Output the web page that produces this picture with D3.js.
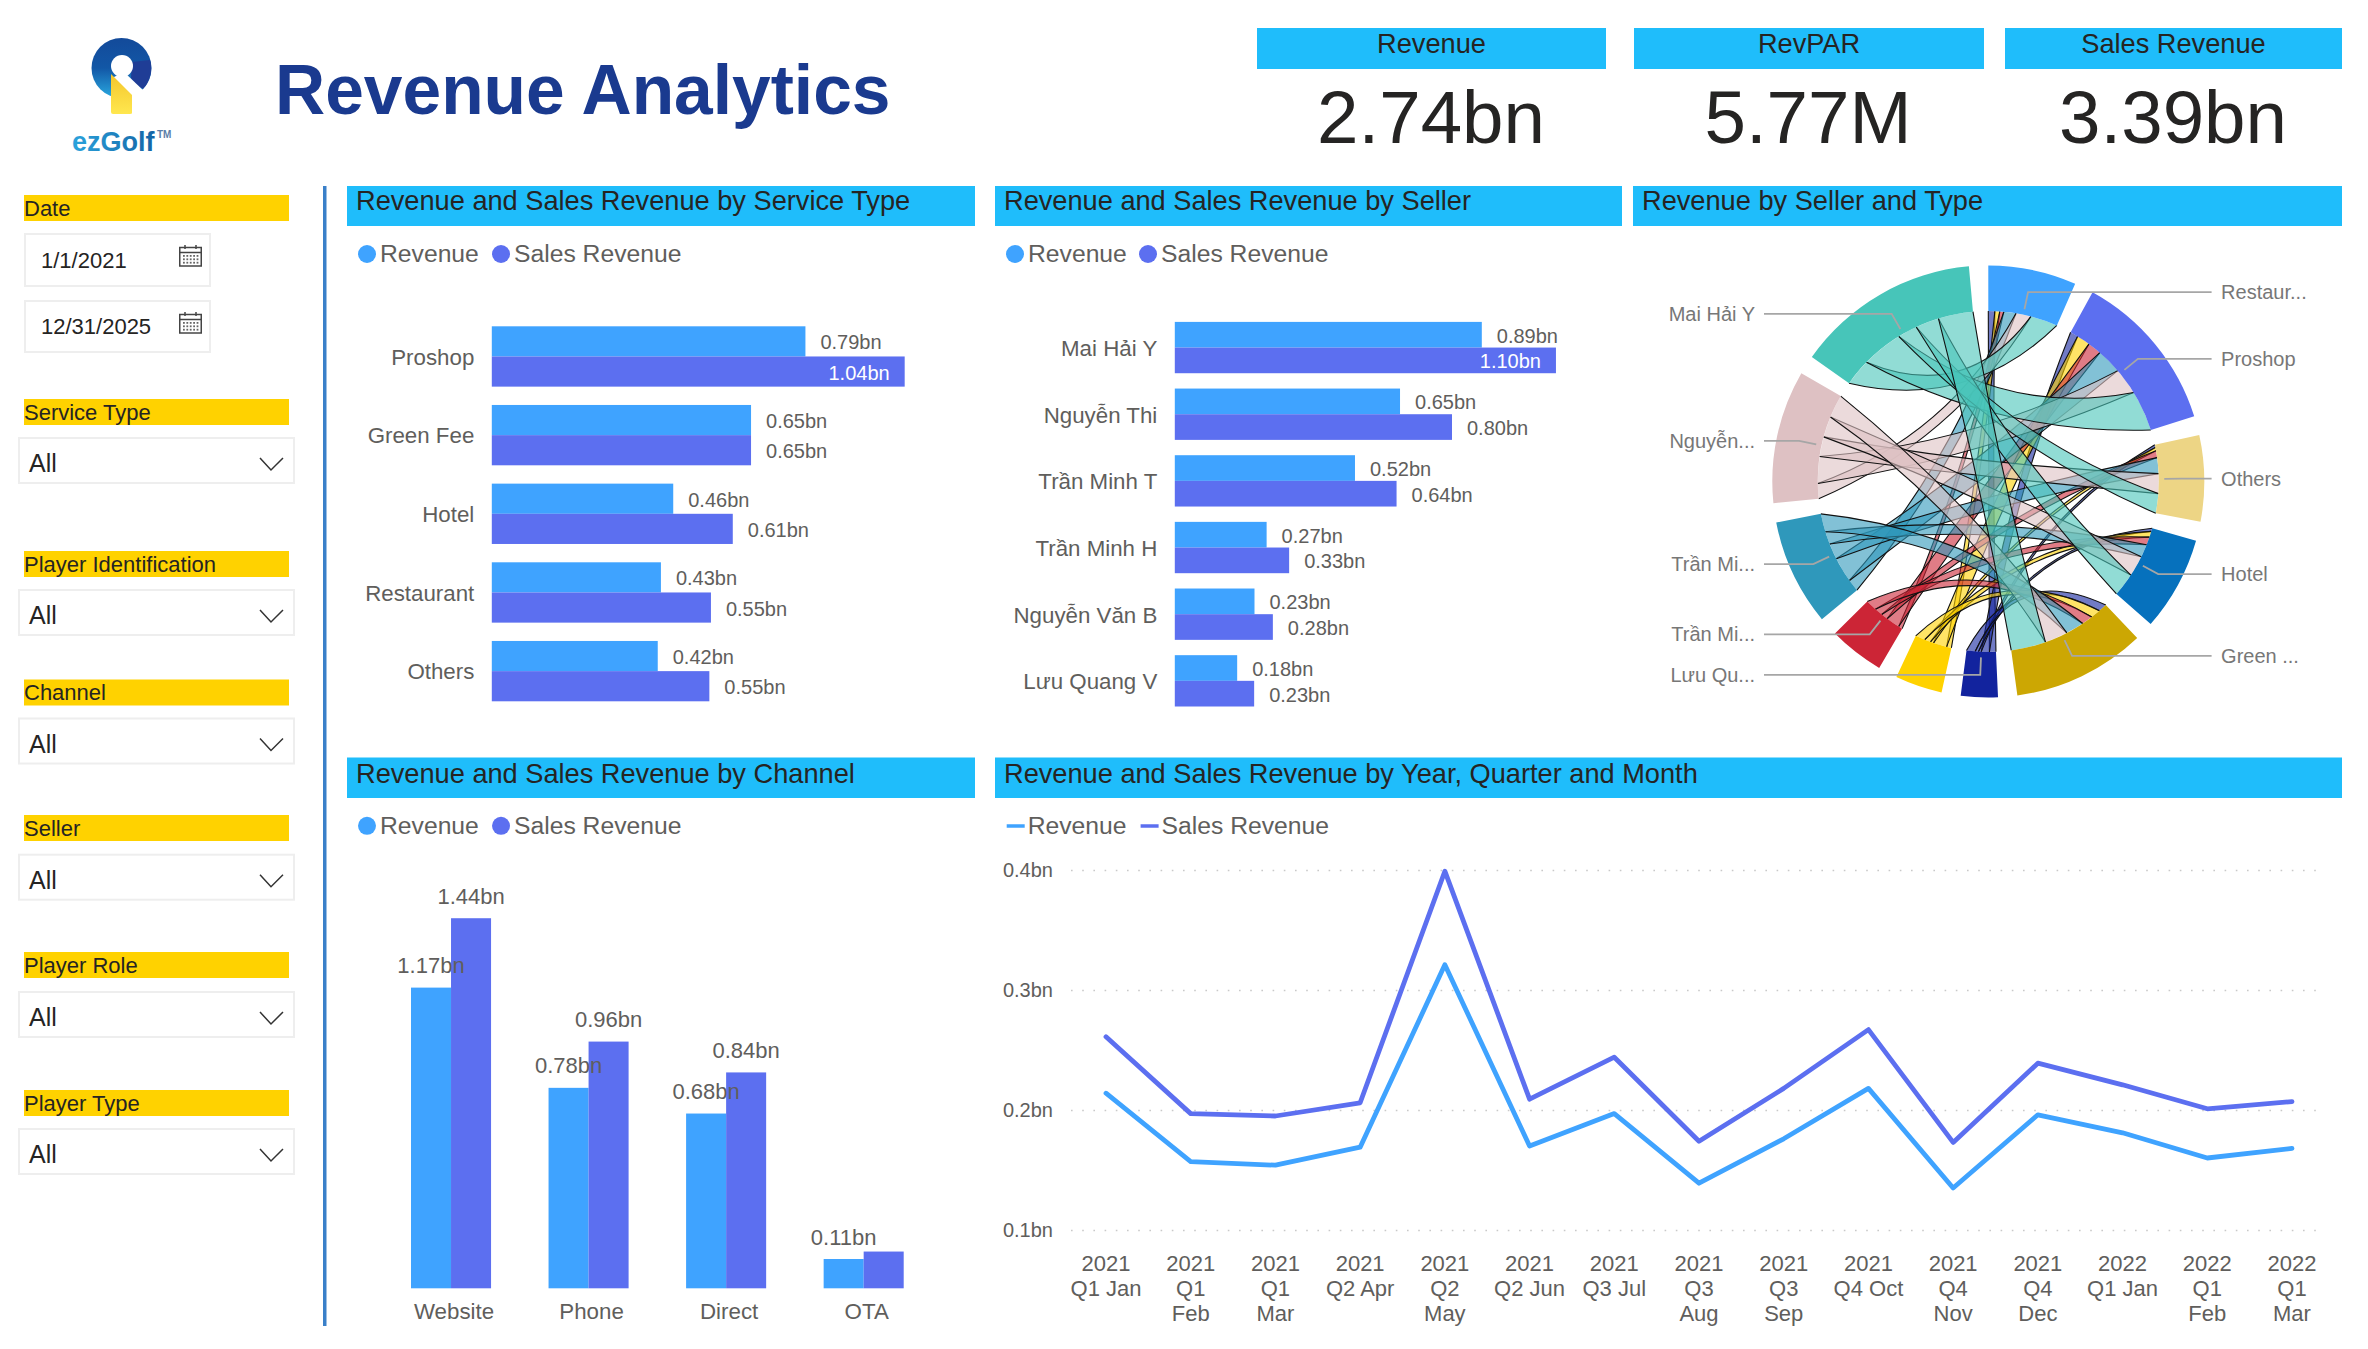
<!DOCTYPE html>
<html><head><meta charset="utf-8"><title>Revenue Analytics</title>
<script src="https://cdn.jsdelivr.net/npm/d3@7"></script>
<style>
html,body{margin:0;padding:0;background:#fff}
svg{display:block}
text{font-family:"Liberation Sans",Arial,sans-serif}
</style></head><body>
<svg id="c" width="2368" height="1349" viewBox="0 0 2368 1349"></svg>
<script>
// ---------- data ----------
const seriesNames = ["Revenue", "Sales Revenue"];
const kpiNames = ["Revenue", "RevPAR", "Sales Revenue"];
const kpiValues = ["2.74bn", "5.77M", "3.39bn"];

const serviceTypes = ["Proshop", "Green Fee", "Hotel", "Restaurant", "Others"];
const serviceRevenue = [0.79, 0.653, 0.457, 0.426, 0.418];
const serviceSales = [1.04, 0.653, 0.607, 0.552, 0.548];

const sellers = ["Mai Hải Y", "Nguyễn Thi", "Trần Minh T", "Trần Minh H", "Nguyễn Văn B", "Lưu Quang V"];
const sellerRevenue = [0.886, 0.65, 0.52, 0.265, 0.23, 0.18];
const sellerSales = [1.10, 0.80, 0.64, 0.33, 0.283, 0.229];

const channels = ["Website", "Phone", "Direct", "OTA"];
const channelRevenue = [1.17, 0.78, 0.68, 0.114];
const channelSales = [1.44, 0.96, 0.84, 0.143];
const channelHiddenSalesLabels = ["OTA"];

const monthLabels = [
  ["2021","Q1 Jan"],["2021","Q1","Feb"],["2021","Q1","Mar"],["2021","Q2 Apr"],["2021","Q2","May"],
  ["2021","Q2 Jun"],["2021","Q3 Jul"],["2021","Q3","Aug"],["2021","Q3","Sep"],["2021","Q4 Oct"],
  ["2021","Q4","Nov"],["2021","Q4","Dec"],["2022","Q1 Jan"],["2022","Q1","Feb"],["2022","Q1","Mar"]];
const monthRevenue = [0.214,0.157,0.154,0.169,0.321,0.170,0.197,0.139,0.176,0.218,0.135,0.196,0.181,0.160,0.168];
const monthSales = [0.261,0.197,0.195,0.206,0.399,0.209,0.244,0.174,0.218,0.267,0.173,0.239,0.221,0.201,0.207];
const lineTicks = [0.1, 0.2, 0.3, 0.4];

// chord groups, clockwise from 12 o'clock
const chordNames = ["Restaurant","Proshop","Others","Hotel","Green Fee","Lưu Quang V","Nguyễn Văn B","Trần Minh H","Trần Minh T","Nguyễn Thi","Mai Hải Y"];
const chordLabels = ["Restaur...","Proshop","Others","Hotel","Green ...","Lưu Qu...","","Trần Mi...","Trần Mi...","Nguyễn...","Mai Hải Y"];
const chordColors = ["#3fa3ff","#5c6ff0","#edd585","#0671bd","#cca703","#12239e","#ffd200","#cc2536","#2f98bb","#dec1c3","#47c5b9"];
const chordTypes = ["Restaurant","Proshop","Others","Hotel","Green Fee"];
const flowLuu   = [0.040,0.050,0.017,0.020,0.053];
const flowVan   = [0.030,0.083,0.020,0.037,0.060];
const flowMinhH = [0.025,0.085,0.042,0.050,0.068];
const flowMinhT = [0.075,0.155,0.098,0.080,0.112];
const flowThi   = [0.093,0.165,0.122,0.128,0.142];
const flowMai   = [0.167,0.252,0.121,0.145,0.215];

const filterNames = ["Service Type","Player Identification","Channel","Seller","Player Role","Player Type"];
const filterValues = ["All","All","All","All","All","All"];
const dateRange = ["1/1/2021","12/31/2025"];

// ---------- style ----------
const C = {rev:"#3fa3ff", sales:"#5c6ff0", band:"#1fbdfb", yellow:"#ffd200", ink:"#252423", grey:"#605e5c", rule:"#3a80c9"};
const svg = d3.select("#c");
const fmt = v => d3.format(".2f")(v) + "bn";

function text(g,x,y,s,size,fill,anchor,weight){
  return g.append("text").attr("x",x).attr("y",y).attr("font-size",size).attr("fill",fill||C.ink)
    .attr("text-anchor",anchor||"start").attr("font-weight",weight||"normal").text(s);
}

// ---------- header ----------
const logo = svg.append("g");
const defs = svg.append("defs");
const lg = defs.append("linearGradient").attr("id","ring").attr("x1",0).attr("y1",0).attr("x2",0).attr("y2",1);
lg.append("stop").attr("offset","0").attr("stop-color","#134a9a");
lg.append("stop").attr("offset","0.5").attr("stop-color","#1257a6");
lg.append("stop").attr("offset","1").attr("stop-color","#2aa9e0");
const ly = defs.append("linearGradient").attr("id","key").attr("x1",0).attr("y1",0).attr("x2",0).attr("y2",1);
ly.append("stop").attr("offset","0").attr("stop-color","#f4c62c");
ly.append("stop").attr("offset","1").attr("stop-color","#ffe74f");
const lt = defs.append("linearGradient").attr("id","wm").attr("x1",0).attr("y1",0).attr("x2",1).attr("y2",0);
lt.append("stop").attr("offset","0").attr("stop-color","#2aa3dc");
lt.append("stop").attr("offset","1").attr("stop-color","#1464a5");
logo.append("circle").attr("cx",121.5).attr("cy",68).attr("r",30).attr("fill","url(#ring)");
logo.append("path").attr("d","M131 78 A 30 30 0 0 0 143 89 A 30 30 0 0 0 150 60 L 132 62 Z").attr("fill","#1f3d96");
logo.append("circle").attr("cx",122).attr("cy",66).attr("r",11).attr("fill","#fff");
logo.append("path").attr("d","M124 72 L 146 93 L 135 104 L 112 78 Z").attr("fill","#fff");
logo.append("path").attr("d","M111 98 L 111 74 L 132 95 L 132 113 Q 132 114 130 114 L 113 114 Q 111 114 111 112 Z").attr("fill","url(#key)");
text(logo,72,151,"ezGolf",27,"url(#wm)","start","bold").attr("font-family","'Open Sans'");
text(logo,157,138,"TM",10,"#5b7ea8","start","bold");

text(svg,275,114,"Revenue Analytics",69.5,"#1a3a8f","start","bold");

const kpiBands = [[1257,1606],[1634,1984],[2005,2342]];
const kpiCentres = [1431,1808,2173];
kpiNames.forEach((n,i)=>{
  svg.append("rect").attr("x",kpiBands[i][0]).attr("y",28).attr("width",kpiBands[i][1]-kpiBands[i][0]).attr("height",41).attr("fill",C.band);
  text(svg,(kpiBands[i][0]+kpiBands[i][1])/2,53,n,27.2,C.ink,"middle");
  text(svg,kpiCentres[i],143,kpiValues[i],74.5,C.ink,"middle");
});

// ---------- filter pane ----------
svg.append("rect").attr("x",323).attr("y",186).attr("width",3.5).attr("height",1140).attr("fill",C.rule);
function band(y,h,label){
  svg.append("rect").attr("x",24).attr("y",y).attr("width",265).attr("height",h).attr("fill",C.yellow);
  text(svg,24,y+h-5.5,label,22,C.ink);
}
band(195,26,"Date");
function calendar(x,y){
  const g = svg.append("g").attr("transform",`translate(${x},${y})`).attr("fill","none").attr("stroke","#444");
  g.append("rect").attr("x",.75).attr("y",2.5).attr("width",21.5).attr("height",18.5).attr("stroke-width",1.5);
  g.append("path").attr("d","M1 7.5H22M6 0V4M17 0V4").attr("stroke-width",1.5);
  d3.range(3).forEach(r=>d3.range(5).forEach(c=>{
    g.append("rect").attr("x",4+c*3.4).attr("y",10+r*3.4).attr("width",1.8).attr("height",1.8).attr("fill","#666").attr("stroke","none");
  }));
}
[[234,52,268],[301,51,334]].forEach((b,i)=>{
  svg.append("rect").attr("x",25).attr("y",b[0]).attr("width",185).attr("height",b[1]).attr("fill","#fff").attr("stroke","#eee").attr("stroke-width",2);
  text(svg,41,b[2],dateRange[i],22,C.ink);
  calendar(179,b[0]+11);
});
const filterBandY = [399,551,679.5,815,952,1090];
const filterBoxY = [438,590,718.5,854.7,992,1129];
filterNames.forEach((n,i)=>{
  band(filterBandY[i],26,n);
  const y = filterBoxY[i];
  svg.append("rect").attr("x",19).attr("y",y).attr("width",275).attr("height",45).attr("fill","#fff").attr("stroke","#eee").attr("stroke-width",2);
  text(svg,29,y+34,filterValues[i],25,C.ink);
  svg.append("path").attr("d",`M260 ${y+20}L271 ${y+32}L283 ${y+20}`).attr("fill","none").attr("stroke","#333").attr("stroke-width",1.5);
});

// ---------- panel helpers ----------
function panelHead(x0,x1,y0,y1,title,dy){
  svg.append("rect").attr("x",x0).attr("y",y0).attr("width",x1-x0).attr("height",y1-y0).attr("fill",C.band);
  text(svg,x0+9,y0+dy,title,27.2,C.ink);
}
function legend(xA,xB,y,kind){
  [[xA,C.rev,seriesNames[0]],[xB,C.sales,seriesNames[1]]].forEach(d=>{
    if(kind==="line"){
      svg.append("line").attr("x1",d[0]).attr("x2",d[0]+18).attr("y1",y).attr("y2",y).attr("stroke",d[1]).attr("stroke-width",3.5);
      text(svg,d[0]+21,y+8,d[2],24.7,C.grey);
    } else {
      svg.append("circle").attr("cx",d[0]+9).attr("cy",y).attr("r",9).attr("fill",d[1]);
      text(svg,d[0]+22,y+8,d[2],24.7,C.grey);
    }
  });
}
function hBars(cats,rev,sal,x0,pxPerBn,yTop,yBot,padInner){
  const maxV = d3.max(rev.concat(sal));
  const x = d3.scaleLinear().domain([0,maxV]).range([x0,x0+maxV*pxPerBn]);
  const y = d3.scaleBand().domain(cats).range([yTop,yBot]).paddingInner(padInner);
  const inner = d3.scaleBand().domain(seriesNames).range([0,y.bandwidth()]);
  const rows = cats.map((c,i)=>({c,vals:[{s:seriesNames[0],v:rev[i]},{s:seriesNames[1],v:sal[i]}]}));
  const g = svg.append("g");
  const rowG = g.selectAll("g.r").data(rows).join("g").attr("transform",d=>`translate(0,${y(d.c)})`);
  rowG.selectAll("rect").data(d=>d.vals).join("rect")
    .attr("x",x0).attr("y",d=>inner(d.s)).attr("width",d=>x(d.v)-x0).attr("height",inner.bandwidth())
    .attr("fill",d=>d.s===seriesNames[0]?C.rev:C.sales);
  rowG.selectAll("text").data(d=>d.vals).join("text")
    .attr("x",d=>d.v===maxV?x(d.v)-15:x(d.v)+15)
    .attr("y",d=>inner(d.s)+inner.bandwidth()/2+8)
    .attr("text-anchor",d=>d.v===maxV?"end":"start")
    .attr("font-size",20).attr("fill",d=>d.v===maxV?"#fff":C.grey)
    .text(d=>fmt(d.v));
  const ax = svg.append("g").attr("transform",`translate(${x0-17.5},1.2)`).call(d3.axisLeft(y).tickSize(0).tickPadding(0));
  ax.select(".domain").remove();
  ax.selectAll("text").attr("font-size",22.3).attr("fill",C.grey).attr("font-family",'"Liberation Sans"');
}

// ---------- service type ----------
panelHead(347,975,186,226,"Revenue and Sales Revenue by Service Type",23.5);
legend(358,492,254,"dot");
hBars(serviceTypes,serviceRevenue,serviceSales,491.8,397,326.3,701.3,0.233);

// ---------- seller ----------
panelHead(995,1622,186,226,"Revenue and Sales Revenue by Seller",23.5);
legend(1006,1139,254,"dot");
hBars(sellers,sellerRevenue,sellerSales,1174.8,346.5,321.9,706.5,0.23);

// ---------- chord ----------
panelHead(1633,2342,186,226,"Revenue by Seller and Type",23.5);
(function(){
  const cx=1988.3, cy=481.5, R=216, r=170.5, pull=0.55;
  const flowRows = {"Lưu Quang V":flowLuu,"Nguyễn Văn B":flowVan,"Trần Minh H":flowMinhH,"Trần Minh T":flowMinhT,"Nguyễn Thi":flowThi,"Mai Hải Y":flowMai};
  const matrix = chordNames.map(a=>chordNames.map(b=>{
    if(flowRows[a] && chordTypes.includes(b)) return flowRows[a][chordTypes.indexOf(b)];
    if(flowRows[b] && chordTypes.includes(a)) return flowRows[b][chordTypes.indexOf(a)];
    return 0;
  }));
  const chords = d3.chord().padAngle(0.09)(matrix);
  const g = svg.append("g").attr("transform",`translate(${cx},${cy})`);
  const pt = (a,rad)=>[rad*Math.sin(a),-rad*Math.cos(a)];
  const ctrl = (p,q)=>[pull*(p[0]+q[0])/2,pull*(p[1]+q[1])/2];
  const sellerOf = d => d.source.index>=5 ? d.source : d.target;
  const typeOf = d => d.source.index>=5 ? d.target : d.source;
  const list = Array.from(chords).sort((p,q)=>sellerOf(p).index-sellerOf(q).index || typeOf(p).index-typeOf(q).index);
  list.forEach(d=>{
    const s = sellerOf(d), t = typeOf(d);
    const s0=pt(s.startAngle,r), s1=pt(s.endAngle,r), t0=pt(t.startAngle,r), t1=pt(t.endAngle,r);
    const c1=ctrl(s1,t0), c2=ctrl(t1,s0), h=-Math.PI/2;
    const f = d3.path();
    f.moveTo(s0[0],s0[1]);
    f.arc(0,0,r,s.startAngle+h,s.endAngle+h);
    f.quadraticCurveTo(c1[0],c1[1],t0[0],t0[1]);
    f.arc(0,0,r,t.startAngle+h,t.endAngle+h);
    f.quadraticCurveTo(c2[0],c2[1],s0[0],s0[1]);
    f.closePath();
    g.append("path").attr("d",f.toString()).attr("fill",chordColors[s.index]).attr("fill-opacity",0.6).attr("stroke","none");
    const e = d3.path();
    e.moveTo(s1[0],s1[1]); e.quadraticCurveTo(c1[0],c1[1],t0[0],t0[1]);
    e.moveTo(t1[0],t1[1]); e.quadraticCurveTo(c2[0],c2[1],s0[0],s0[1]);
    g.append("path").attr("d",e.toString()).attr("fill","none").attr("stroke","#111").attr("stroke-width",1.1);
  });
  const arc = d3.arc().innerRadius(r).outerRadius(R);
  g.selectAll("path.arc").data(chords.groups).join("path").attr("class","arc").attr("d",arc).attr("fill",d=>chordColors[d.index]);
  // labels with leader lines
  chords.groups.forEach(d=>{
    const label = chordLabels[d.index];
    if(!label) return;
    const a=(d.startAngle+d.endAngle)/2;
    const p0=pt(a,176), p1=pt(a,193.5);
    const right = Math.sin(a)>0;
    const xEnd = right ? 2211.6-cx : 1764-cx;
    g.append("path").attr("d",d3.line()([p0,p1,[xEnd,p1[1]]])).attr("fill","none").attr("stroke","#a6a6a6").attr("stroke-width",1.8);
    text(g,right?xEnd+9.5:xEnd-9,p1[1]+7,label,20,"#777",right?"start":"end");
  });
})();

// ---------- channel ----------
panelHead(347,975,757.5,798,"Revenue and Sales Revenue by Channel",25);
legend(358,492,825.8,"dot");
(function(){
  const base=1288.3;
  const x = d3.scaleBand().domain(channels).range([411,903.7]).paddingInner(0.418);
  const xi = d3.scaleBand().domain(seriesNames).range([0,x.bandwidth()]);
  const y = d3.scaleLinear().domain([0,1.44]).range([base,base-1.44*257]);
  const rows = channels.map((c,i)=>({c,vals:[{c,s:seriesNames[0],v:channelRevenue[i]},{c,s:seriesNames[1],v:channelSales[i]}]}));
  const g = svg.append("g");
  const rowG = g.selectAll("g.r").data(rows).join("g").attr("transform",d=>`translate(${x(d.c)},0)`);
  rowG.selectAll("rect").data(d=>d.vals).join("rect")
    .attr("x",d=>xi(d.s)).attr("y",d=>y(d.v)).attr("width",xi.bandwidth()).attr("height",d=>base-y(d.v))
    .attr("fill",d=>d.s===seriesNames[0]?C.rev:C.sales);
  const lab = svg.append("g");
  rows.forEach(r=>r.vals.forEach(d=>{
    if(d.s===seriesNames[1] && channelHiddenSalesLabels.includes(d.c)) return;
    text(lab,x(d.c)+xi(d.s)+xi.bandwidth()/2,y(d.v)-14.5,fmt(d.v),22,C.grey,"middle");
  }));
  const ax = svg.append("g").attr("transform",`translate(3,${base})`).call(d3.axisBottom(x).tickSize(0).tickPadding(14.5));
  ax.select(".domain").remove();
  ax.selectAll("text").attr("font-size",22.3).attr("fill",C.grey).attr("font-family",'"Liberation Sans"');
})();

// ---------- monthly line ----------
panelHead(995,2342,757.5,798,"Revenue and Sales Revenue by Year, Quarter and Month",25);
legend(1006.7,1140.6,826,"line");
(function(){
  const idx = monthLabels.map((_,i)=>i);
  const x = d3.scalePoint().domain(idx).range([1106,2292]);
  const y = d3.scaleLinear().domain([0.1,0.4]).range([1230,870]);
  const ay = svg.append("g").attr("transform","translate(1071,0)")
    .call(d3.axisLeft(y).tickValues(lineTicks).tickFormat(v=>d3.format(".1f")(v)+"bn").tickSize(-1250.5).tickPadding(18));
  ay.select(".domain").remove();
  ay.selectAll("line").attr("stroke","#c9c9c9").attr("stroke-width",1.6).attr("stroke-dasharray","1.6 9.6");
  ay.selectAll("text").attr("font-size",20).attr("fill",C.grey).attr("font-family",'"Liberation Sans"');
  const line = d3.line().x((d,i)=>x(i)).y(d=>y(d));
  [[monthRevenue,C.rev],[monthSales,C.sales]].forEach(s=>{
    svg.append("path").attr("d",line(s[0])).attr("fill","none").attr("stroke",s[1]).attr("stroke-width",4.8).attr("stroke-linejoin","round").attr("stroke-linecap","round");
  });
  monthLabels.forEach((ls,i)=>{
    ls.forEach((l,j)=>text(svg,x(i),1271+j*25,l,22,C.grey,"middle"));
  });
})();
</script>
</body></html>
